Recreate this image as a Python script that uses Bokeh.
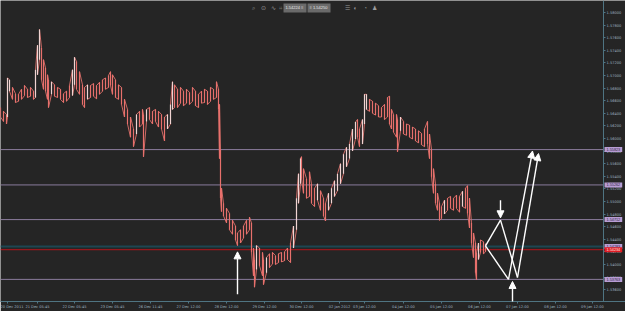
from bokeh.plotting import figure
from bokeh.models import (Range1d, FixedTicker, PrintfTickFormatter, Label,
                          Arrow, NormalHead, LinearAxis, ColumnDataSource)
from bokeh.embed import file_html
from bokeh.resources import INLINE

# ---------------- data ----------------
bar_x = [0, 3, 6, 7, 9, 12, 15, 18, 21, 24, 27, 30, 33, 35, 37, 39, 41, 43, 45, 47, 48, 51, 54, 57, 60,
         63, 66, 69, 72, 74, 76, 79, 82, 84, 87, 90, 93, 96, 99, 102, 105, 108, 110, 112, 115, 118, 121,
         124, 127, 130, 133, 136, 139, 142, 143, 146, 149, 152, 155, 158, 161, 164, 167, 170, 172, 174,
         177, 180, 183, 186, 189, 192, 195, 198, 201, 204, 207, 210, 213, 216, 218, 219, 220, 221, 223,
         226, 229, 232, 235, 237, 240, 243, 246, 249, 251, 253, 254, 256, 259, 262, 263, 266, 269, 272,
         275, 278, 281, 284, 287, 290, 293, 296, 298, 300, 301, 303, 306, 309, 311, 314, 317, 320, 323,
         325, 328, 331, 334, 337, 340, 343, 346, 349, 352, 355, 357, 359, 362, 364, 366, 369, 372, 375,
         378, 381, 384, 387, 389, 391, 393, 396, 397, 400, 403, 406, 409, 412, 415, 418, 421, 424, 427,
         429, 431, 433, 435, 437, 439, 441, 444, 447, 450, 453, 456, 459, 462, 465, 467, 469, 471, 473,
         475, 476, 478, 480, 483, 485]
bar_high = [1.5649, 1.5643, 1.5638, 1.5696, 1.5693, 1.5681, 1.5671, 1.5670, 1.5678, 1.5684, 1.5678, 1.5681,
            1.5675, 1.5709, 1.5748, 1.5773, 1.5744, 1.5725, 1.5712, 1.5701, 1.5693, 1.5690, 1.5685, 1.5681,
            1.5678, 1.5671, 1.5675, 1.5684, 1.5709, 1.5729, 1.5722, 1.5706, 1.5685, 1.5681, 1.5685, 1.5684,
            1.5687, 1.5684, 1.5689, 1.5693, 1.5696, 1.5700, 1.5706, 1.5701, 1.5693, 1.5685, 1.5681, 1.5662,
            1.5646, 1.5634, 1.5615, 1.5638, 1.5643, 1.5646, 1.5638, 1.5646, 1.5649, 1.5643, 1.5646, 1.5643,
            1.5638, 1.5634, 1.5638, 1.5654, 1.5690, 1.5685, 1.5678, 1.5681, 1.5675, 1.5678, 1.5673, 1.5681,
            1.5675, 1.5670, 1.5675, 1.5678, 1.5675, 1.5681, 1.5678, 1.5690, 1.5678, 1.5654, 1.5583, 1.5521,
            1.5497, 1.5489, 1.5481, 1.5470, 1.5461, 1.5450, 1.5455, 1.5461, 1.5470, 1.5475, 1.5466, 1.5426,
            1.5408, 1.5430, 1.5426, 1.5419, 1.5408, 1.5411, 1.5417, 1.5419, 1.5414, 1.5417, 1.5419, 1.5420,
            1.5426, 1.5434, 1.5461, 1.5505, 1.5544, 1.5568, 1.5571, 1.5552, 1.5536, 1.5547, 1.5528, 1.5521,
            1.5528, 1.5517, 1.5505, 1.5497, 1.5513, 1.5521, 1.5533, 1.5544, 1.5560, 1.5575, 1.5586, 1.5591,
            1.5615, 1.5626, 1.5630, 1.5615, 1.5630, 1.5670, 1.5670, 1.5662, 1.5659, 1.5656, 1.5652, 1.5649,
            1.5654, 1.5665, 1.5667, 1.5646, 1.5638, 1.5638, 1.5630, 1.5634, 1.5627, 1.5623, 1.5621, 1.5618,
            1.5615, 1.5612, 1.5608, 1.5615, 1.5627, 1.5607, 1.5583, 1.5552, 1.5528, 1.5513, 1.5497, 1.5492,
            1.5502, 1.5505, 1.5508, 1.5505, 1.5510, 1.5508, 1.5516, 1.5521, 1.5525, 1.5505, 1.5466, 1.5450,
            1.5434, 1.5419, 1.5434, 1.5439, 1.5436, 1.5433]
bar_low = [1.5634, 1.5627, 1.5623, 1.5634, 1.5675, 1.5662, 1.5657, 1.5659, 1.5662, 1.5668, 1.5665, 1.5667,
           1.5662, 1.5665, 1.5701, 1.5725, 1.5693, 1.5678, 1.5675, 1.5662, 1.5649, 1.5670, 1.5667, 1.5665,
           1.5662, 1.5657, 1.5659, 1.5665, 1.5668, 1.5685, 1.5678, 1.5670, 1.5654, 1.5649, 1.5662, 1.5665,
           1.5667, 1.5663, 1.5670, 1.5675, 1.5678, 1.5681, 1.5684, 1.5670, 1.5665, 1.5662, 1.5654, 1.5634,
           1.5623, 1.5602, 1.5587, 1.5607, 1.5618, 1.5623, 1.5571, 1.5627, 1.5630, 1.5623, 1.5627, 1.5618,
           1.5615, 1.5596, 1.5615, 1.5623, 1.5646, 1.5649, 1.5649, 1.5656, 1.5652, 1.5656, 1.5654, 1.5659,
           1.5652, 1.5649, 1.5656, 1.5657, 1.5654, 1.5659, 1.5662, 1.5665, 1.5646, 1.5568, 1.5505, 1.5484,
           1.5477, 1.5466, 1.5455, 1.5448, 1.5439, 1.5430, 1.5434, 1.5442, 1.5448, 1.5455, 1.5419, 1.5382,
           1.5364, 1.5392, 1.5398, 1.5382, 1.5368, 1.5387, 1.5395, 1.5401, 1.5400, 1.5403, 1.5404, 1.5406,
           1.5408, 1.5403, 1.5426, 1.5455, 1.5497, 1.5528, 1.5536, 1.5513, 1.5505, 1.5508, 1.5497, 1.5492,
           1.5502, 1.5486, 1.5477, 1.5469, 1.5486, 1.5497, 1.5508, 1.5517, 1.5528, 1.5544, 1.5555, 1.5568,
           1.5580, 1.5599, 1.5602, 1.5587, 1.5591, 1.5623, 1.5646, 1.5643, 1.5640, 1.5637, 1.5634, 1.5634,
           1.5630, 1.5634, 1.5623, 1.5615, 1.5610, 1.5602, 1.5579, 1.5612, 1.5607, 1.5605, 1.5602, 1.5599,
           1.5596, 1.5593, 1.5590, 1.5587, 1.5591, 1.5568, 1.5539, 1.5513, 1.5497, 1.5486, 1.5470, 1.5473,
           1.5480, 1.5486, 1.5489, 1.5486, 1.5489, 1.5483, 1.5492, 1.5489, 1.5481, 1.5458, 1.5434, 1.5411,
           1.5387, 1.5376, 1.5408, 1.5419, 1.5417, 1.5420]

level_prices = [1.55823, 1.55262, 1.54712, 1.53763]   # lilac horizontal lines
level_labels = ["1.55823", "1.55262", "1.54712", "1.53763"]
teal_price, teal_label = 1.54283, "1.54283"
red_price, red_label = 1.54234, "1.54234"

y_ticks = [1.536, 1.538, 1.540, 1.542, 1.544, 1.546, 1.548, 1.550, 1.552, 1.554, 1.556, 1.558,
           1.560, 1.562, 1.564, 1.566, 1.568, 1.570, 1.572, 1.574, 1.576, 1.578, 1.580]
x_tick_pos = [7, 37, 74, 112, 150, 188, 226, 264, 301, 339, 364, 403, 441, 479, 517, 555, 592]
x_tick_labels = ["20 Dec 2011", "21 Dec 05:45", "22 Dec 05:45", "23 Dec 05:45", "26 Dec 11:45",
                 "27 Dec 12:00", "28 Dec 12:00", "29 Dec 12:00", "30 Dec 12:00", "02 Jan 2012",
                 "03 Jan 12:00", "04 Jan 12:00", "05 Jan 12:00", "06 Jan 12:00", "07 Jan 12:00",
                 "08 Jan 12:00", "09 Jan 12:00"]

# hand-drawn pattern lines (bar, price)
zig_x0 = [485, 485, 500]
zig_y0 = [1.54295, 1.54295, 1.54704]
zig_x1 = [500, 508, 517]
zig_y1 = [1.54704, 1.53762, 1.53793]
arrow_x0 = [237, 500, 512, 508, 517]
arrow_y0 = [1.53526, 1.55018, 1.53400, 1.53762, 1.53793]
arrow_x1 = [237, 500, 512, 532, 538]
arrow_y1 = [1.54200, 1.54740, 1.53730, 1.55800, 1.55760]

# ---------------- figure ----------------
BG = "#252525"
AX = "#9fb2c0"
AXL = "#4f7482"
SCALE_X = 603   # bar position of the price scale

p = figure(width=625, height=311, output_backend="svg", toolbar_location=None,
           x_range=Range1d(0, 625), y_range=Range1d(1.53412, 1.58189),
           min_border_left=0, min_border_top=0, min_border_right=0, min_border_bottom=7,
           background_fill_color=BG, border_fill_color=BG, outline_line_color=None,
           x_axis_location=None, y_axis_location=None)
p.grid.visible = False

yax = LinearAxis(ticker=FixedTicker(ticks=y_ticks), formatter=PrintfTickFormatter(format="%.5f"),
                 fixed_location=SCALE_X)
xax = LinearAxis(ticker=FixedTicker(ticks=x_tick_pos),
                 major_label_overrides={x: s for x, s in zip(x_tick_pos, x_tick_labels)})
for ax in (yax, xax):
    ax.axis_line_color = AXL
    ax.axis_line_width = 1
    ax.major_tick_line_color = AXL
    ax.major_tick_out = 2
    ax.major_tick_in = 0
    ax.minor_tick_line_color = None
    ax.major_label_text_color = AX
    ax.major_label_text_font = "DejaVu Sans"
    ax.major_label_text_font_size = "3.6px"
    ax.major_label_standoff = 1
p.add_layout(yax, "right")
p.add_layout(xax, "below")

# horizontal levels (end at the price scale)
n = len(level_prices)
p.segment(x0=[0] * n, x1=[SCALE_X] * n, y0=level_prices, y1=level_prices, line_color="#8a7b9c", line_width=1)
p.segment(x0=[0], x1=[SCALE_X], y0=[teal_price], y1=[teal_price], line_color="#1d4752", line_width=2)
p.segment(x0=[0], x1=[SCALE_X], y0=[red_price], y1=[red_price], line_color="#b3151c", line_width=1)

# price bars: hi-lo strokes joined by a zig-zag path
mids = [(h + l) / 2 for h, l in zip(bar_high, bar_low)]
colors = ["#e8706c"] + ["#f0d4d2" if mids[i] > mids[i - 1] + 0.0008 else "#e8706c" for i in range(1, len(mids))]
zx, zy = [], []
for i, (x, h, l) in enumerate(zip(bar_x, bar_high, bar_low)):
    if i % 2 == 0:
        zx += [x, x]; zy += [h, l]
    else:
        zx += [x, x]; zy += [l, h]
src = ColumnDataSource(dict(x=bar_x, hi=bar_high, lo=bar_low, c=colors))
p.line(zx, zy, line_color="#e0716c", line_width=1, line_alpha=0.9)
p.segment(x0="x", y0="lo", x1="x", y1="hi", source=src, line_color="c", line_width=1.2)

# pattern lines and arrows
p.segment(x0=zig_x0, y0=zig_y0, x1=zig_x1, y1=zig_y1, line_color="white", line_width=1.4)
for xa, ya, xb, yb in zip(arrow_x0, arrow_y0, arrow_x1, arrow_y1):
    p.add_layout(Arrow(x_start=xa, y_start=ya, x_end=xb, y_end=yb, line_color="white", line_width=1.4,
                       end=NormalHead(size=7, fill_color="white", line_color="white")))

# level boxes on the price scale
for lv, lab in zip(level_prices + [teal_price], level_labels + [teal_label]):
    p.add_layout(Label(x=SCALE_X + 1, y=lv, text=lab, text_font_size="3.8px", text_color="#2b1f40",
                       text_baseline="middle", text_align="left", background_fill_color="#b89dd4",
                       padding=(2, 1)))
p.add_layout(Label(x=SCALE_X + 1, y=red_price, text=red_label, text_font_size="3.8px", text_color="#ffe0e0",
                   text_baseline="middle", text_align="left", background_fill_color="#e01c24", padding=(2, 1)))

# top toolbar strip
p.add_layout(Label(x=283, y=1.58071, text="1.54224  ≡", text_font_size="4px", text_color="#e8e8e8",
                   text_baseline="middle", background_fill_color="#6a6a6a", padding=2))
p.add_layout(Label(x=307, y=1.58071, text="≡  1.54250", text_font_size="4px", text_color="#e8e8e8",
                   text_baseline="middle", background_fill_color="#6a6a6a", padding=2))
for xi, ch in zip([251, 260, 270, 278, 344, 353, 363, 371], ["⌕", "⊙", "∿", "⌗", "☰", "◐", "◔", "♟"]):
    p.add_layout(Label(x=xi, y=1.58071, text=ch, text_font_size="6px", text_color="#9a9a9a",
                       text_baseline="middle"))

open("out.html", "w").write(file_html(p, INLINE))
